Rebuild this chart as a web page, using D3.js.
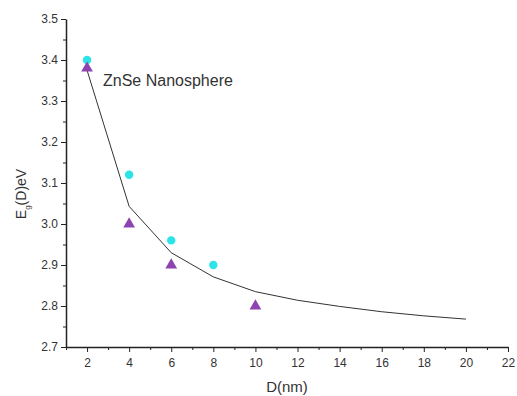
<!DOCTYPE html>
<html><head><meta charset="utf-8">
<script src="https://cdn.jsdelivr.net/npm/d3@7"></script>
<style>body{margin:0;background:#fff}svg{font-family:"Liberation Sans",Arial,sans-serif}</style>
</head><body><svg id="c" width="517" height="396"></svg>
<script>
const curveD = [2,4,6,8,10,12,14,16,18,20];
const curveE = [3.375,3.043,2.93,2.871,2.835,2.814,2.799,2.786,2.776,2.768];
const circleD = [2,4,6,8];
const circleE = [3.40,3.12,2.96,2.90];
const triD = [2,4,6,10];
const triE = [3.38,3.00,2.90,2.80];
const xTicks = [2,4,6,8,10,12,14,16,18,20,22];
const yTicks = [2.7,2.8,2.9,3.0,3.1,3.2,3.3,3.4,3.5];

const svg = d3.select("#c");
const x = d3.scaleLinear().domain([1,22]).range([66,508]);
const y = d3.scaleLinear().domain([2.7,3.5]).range([347,19]);
const col = "#222";

const xAxis = svg.append("g").attr("transform","translate(0,347)")
  .call(d3.axisBottom(x).tickValues(xTicks).tickSize(5).tickSizeOuter(0).tickFormat(d3.format("d")));
svg.append("g").attr("transform","translate(0,347)")
  .call(d3.axisBottom(x).tickValues(d3.range(1,23,2)).tickSize(3).tickFormat("").tickSizeOuter(0))
  .select(".domain").remove();
const yAxis = svg.append("g").attr("transform","translate(66,0)")
  .call(d3.axisLeft(y).tickValues(yTicks).tickSize(5).tickSizeOuter(0).tickFormat(d3.format(".1f")));
svg.append("g").attr("transform","translate(66,0)")
  .call(d3.axisLeft(y).tickValues(d3.range(2.75,3.5,0.1)).tickSize(3).tickFormat("").tickSizeOuter(0))
  .select(".domain").remove();
svg.selectAll(".domain").attr("stroke",col).attr("stroke-width",1.5);
svg.selectAll(".tick line").attr("stroke",col).attr("stroke-width",1);
svg.selectAll(".tick text").attr("fill","#333").style("font-size","12px");
xAxis.selectAll(".tick text").attr("dy","1.0em");

const pts = curveD.map((d,i)=>[d,curveE[i]]);
svg.append("path").datum(pts)
  .attr("d", d3.line().x(d=>x(d[0])).y(d=>y(d[1])))
  .attr("fill","none").attr("stroke","#333").attr("stroke-width",1);

svg.selectAll("circle.c").data(circleD).join("circle")
  .attr("cx",d=>x(d)).attr("cy",(d,i)=>y(circleE[i])).attr("r",4.2)
  .attr("fill","#2ce3e8");
const tri = d3.symbol().type(d3.symbolTriangle).size(60);
svg.selectAll("path.t").data(triD).join("path")
  .attr("d",tri).attr("transform",(d,i)=>`translate(${x(d)},${y(triE[i])})`)
  .attr("fill","#8e44b0");

svg.append("text").attr("x",103).attr("y",86).text("ZnSe Nanosphere")
  .attr("fill","#333").style("font-size","16px");
svg.append("text").attr("x",287).attr("y",392).attr("text-anchor","middle")
  .text("D(nm)").attr("fill","#333").style("font-size","15px");
const yl = svg.append("text").attr("transform","translate(26,194) rotate(-90)")
  .attr("text-anchor","middle").attr("fill","#333").style("font-size","14px");
yl.append("tspan").text("E");
yl.append("tspan").text("g").attr("dy","4").style("font-size","8px");
yl.append("tspan").text("(D)eV").attr("dy","-4");
</script></body></html>
